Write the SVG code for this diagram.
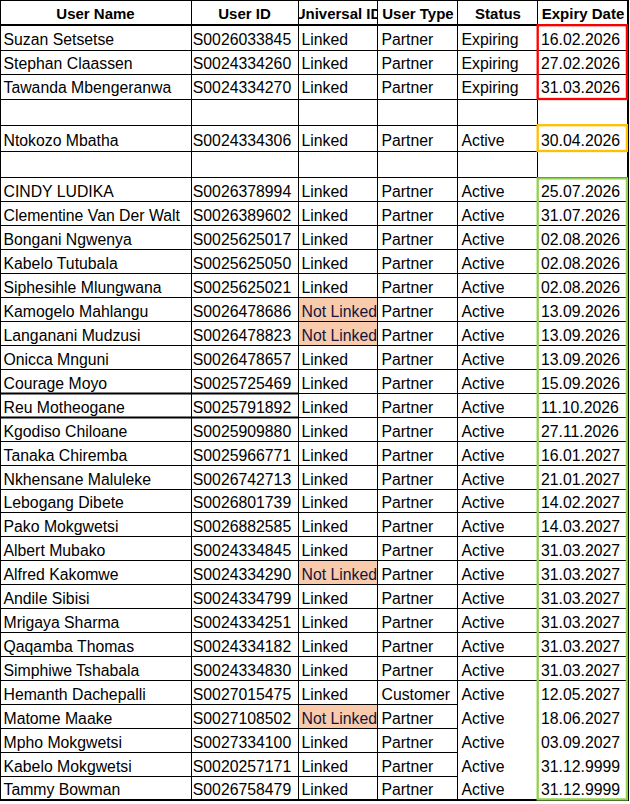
<svg xmlns="http://www.w3.org/2000/svg" width="630" height="804" viewBox="0 0 630 804">
<style>
text{font-family:"Liberation Sans",Arial,sans-serif;fill:#000}
.c{font-size:15.8px}
.h{font-size:15px;font-weight:bold;text-anchor:middle}
.g{stroke:#000;stroke-width:1;fill:none}
.k{stroke:#000;stroke-width:2;fill:none}
.nl{fill:#F8CBAD}
.nt{fill:#14143a}
</style>
<defs>
<clipPath id="uidclip"><rect x="299" y="0" width="78" height="25"/></clipPath>
</defs>
<rect x="0" y="0" width="630" height="804" fill="#fff"/>
<g id="fills">
<rect class="nl" x="299" y="298" width="78" height="23.5"/>
<rect class="nl" x="299" y="322" width="78" height="23.5"/>
<rect class="nl" x="299" y="561" width="78" height="23.5"/>
<rect class="nl" x="299" y="705" width="78" height="23.5"/>
</g>
<g id="grid">
<line class="g" x1="0" y1="0.5" x2="629" y2="0.5"/>
<line class="k" x1="0" y1="25" x2="629" y2="25"/>
<line class="g" x1="0" y1="50.5" x2="628" y2="50.5"/>
<line class="g" x1="0" y1="74.5" x2="628" y2="74.5"/>
<line class="g" x1="0" y1="99.5" x2="628" y2="99.5"/>
<line class="g" x1="0" y1="125.5" x2="628" y2="125.5"/>
<line class="g" x1="0" y1="151.5" x2="628" y2="151.5"/>
<line class="g" x1="0" y1="177.5" x2="628" y2="177.5"/>
<line class="g" x1="0" y1="201.5" x2="628" y2="201.5"/>
<line class="g" x1="0" y1="225.5" x2="628" y2="225.5"/>
<line class="g" x1="0" y1="249.5" x2="628" y2="249.5"/>
<line class="g" x1="0" y1="273.5" x2="628" y2="273.5"/>
<line class="g" x1="0" y1="297.5" x2="628" y2="297.5"/>
<line class="g" x1="0" y1="321.5" x2="628" y2="321.5"/>
<line class="g" x1="0" y1="345.5" x2="628" y2="345.5"/>
<line class="g" x1="0" y1="369.5" x2="628" y2="369.5"/>
<line class="k" x1="0" y1="393.5" x2="298.5" y2="393.5"/>
<line class="g" x1="298.5" y1="393.5" x2="628" y2="393.5"/>
<line class="k" x1="0" y1="417.5" x2="298.5" y2="417.5"/>
<line class="g" x1="298.5" y1="417.5" x2="628" y2="417.5"/>
<line class="g" x1="0" y1="441.5" x2="628" y2="441.5"/>
<line class="g" x1="0" y1="465.5" x2="628" y2="465.5"/>
<line class="g" x1="0" y1="489.5" x2="628" y2="489.5"/>
<line class="g" x1="0" y1="512.5" x2="628" y2="512.5"/>
<line class="g" x1="0" y1="536.5" x2="628" y2="536.5"/>
<line class="g" x1="0" y1="560.5" x2="628" y2="560.5"/>
<line class="g" x1="0" y1="584.5" x2="628" y2="584.5"/>
<line class="g" x1="0" y1="608.5" x2="628" y2="608.5"/>
<line class="g" x1="0" y1="632.5" x2="628" y2="632.5"/>
<line class="g" x1="0" y1="656.5" x2="628" y2="656.5"/>
<line class="g" x1="0" y1="680.5" x2="628" y2="680.5"/>
<line class="g" x1="0" y1="704.5" x2="458" y2="704.5"/>
<line class="g" x1="0" y1="728.5" x2="458" y2="728.5"/>
<line class="g" x1="0" y1="752.5" x2="458" y2="752.5"/>
<line class="g" x1="0" y1="776.5" x2="458" y2="776.5"/>
<line class="k" x1="0" y1="800" x2="629" y2="800"/>
<line class="g" x1="0.5" y1="0" x2="0.5" y2="801"/>
<line class="g" x1="191.5" y1="0" x2="191.5" y2="801"/>
<line class="g" x1="298.5" y1="0" x2="298.5" y2="801"/>
<line class="g" x1="377.5" y1="0" x2="377.5" y2="801"/>
<line class="g" x1="457.5" y1="0" x2="457.5" y2="801"/>
<line class="g" x1="537.5" y1="0" x2="537.5" y2="801"/>
<line class="k" x1="628" y1="0" x2="628" y2="801"/>
</g>
<g id="highlights" fill="none" stroke-width="2.3">
<rect x="537.7" y="25.2" width="89.2" height="73.8" stroke="#FF0000"/>
<rect x="537.7" y="125.2" width="89.2" height="25.8" stroke="#FFC000"/>
<rect x="537.7" y="178.4" width="89.2" height="621" stroke="#92D050"/>
</g>
<g id="header">
<text class="h" x="95.5" y="19">User Name</text>
<text class="h" x="244.5" y="19">User ID</text>
<text class="h" x="338" y="19" clip-path="url(#uidclip)">Universal ID</text>
<text class="h" x="418" y="19">User Type</text>
<text class="h" x="498" y="19">Status</text>
<text class="h" x="583" y="19">Expiry Date</text>
</g>
<g id="rows" class="c">
<g id="r01"><text x="3.5" y="44.5">Suzan Setsetse</text><text x="192.8" y="44.5">S0026033845</text><text x="301.5" y="44.5">Linked</text><text x="381.5" y="44.5">Partner</text><text x="461.5" y="44.5">Expiring</text><text x="541" y="44.5">16.02.2026</text></g>
<g id="r02"><text x="3.5" y="68.5">Stephan Claassen</text><text x="192.8" y="68.5">S0024334260</text><text x="301.5" y="68.5">Linked</text><text x="381.5" y="68.5">Partner</text><text x="461.5" y="68.5">Expiring</text><text x="541" y="68.5">27.02.2026</text></g>
<g id="r03"><text x="3.5" y="93">Tawanda Mbengeranwa</text><text x="192.8" y="93">S0024334270</text><text x="301.5" y="93">Linked</text><text x="381.5" y="93">Partner</text><text x="461.5" y="93">Expiring</text><text x="541" y="93">31.03.2026</text></g>
<g id="r04"><text x="3.5" y="145.5">Ntokozo Mbatha</text><text x="192.8" y="145.5">S0024334306</text><text x="301.5" y="145.5">Linked</text><text x="381.5" y="145.5">Partner</text><text x="461.5" y="145.5">Active</text><text x="541" y="145.5">30.04.2026</text></g>
<g id="r05"><text x="3.5" y="196.5">CINDY LUDIKA</text><text x="192.8" y="196.5">S0026378994</text><text x="301.5" y="196.5">Linked</text><text x="381.5" y="196.5">Partner</text><text x="461.5" y="196.5">Active</text><text x="541" y="196.5">25.07.2026</text></g>
<g id="r06"><text x="3.5" y="220.5">Clementine Van Der Walt</text><text x="192.8" y="220.5">S0026389602</text><text x="301.5" y="220.5">Linked</text><text x="381.5" y="220.5">Partner</text><text x="461.5" y="220.5">Active</text><text x="541" y="220.5">31.07.2026</text></g>
<g id="r07"><text x="3.5" y="244.5">Bongani Ngwenya</text><text x="192.8" y="244.5">S0025625017</text><text x="301.5" y="244.5">Linked</text><text x="381.5" y="244.5">Partner</text><text x="461.5" y="244.5">Active</text><text x="541" y="244.5">02.08.2026</text></g>
<g id="r08"><text x="3.5" y="268.5">Kabelo Tutubala</text><text x="192.8" y="268.5">S0025625050</text><text x="301.5" y="268.5">Linked</text><text x="381.5" y="268.5">Partner</text><text x="461.5" y="268.5">Active</text><text x="541" y="268.5">02.08.2026</text></g>
<g id="r09"><text x="3.5" y="292.5">Siphesihle Mlungwana</text><text x="192.8" y="292.5">S0025625021</text><text x="301.5" y="292.5">Linked</text><text x="381.5" y="292.5">Partner</text><text x="461.5" y="292.5">Active</text><text x="541" y="292.5">02.08.2026</text></g>
<g id="r10"><text x="3.5" y="316.5">Kamogelo Mahlangu</text><text x="192.8" y="316.5">S0026478686</text><text class="nt" x="301.5" y="316.5">Not Linked</text><text x="381.5" y="316.5">Partner</text><text x="461.5" y="316.5">Active</text><text x="541" y="316.5">13.09.2026</text></g>
<g id="r11"><text x="3.5" y="340.5">Langanani Mudzusi</text><text x="192.8" y="340.5">S0026478823</text><text class="nt" x="301.5" y="340.5">Not Linked</text><text x="381.5" y="340.5">Partner</text><text x="461.5" y="340.5">Active</text><text x="541" y="340.5">13.09.2026</text></g>
<g id="r12"><text x="3.5" y="364.5">Onicca Mnguni</text><text x="192.8" y="364.5">S0026478657</text><text x="301.5" y="364.5">Linked</text><text x="381.5" y="364.5">Partner</text><text x="461.5" y="364.5">Active</text><text x="541" y="364.5">13.09.2026</text></g>
<g id="r13"><text x="3.5" y="388.5">Courage Moyo</text><text x="192.8" y="388.5">S0025725469</text><text x="301.5" y="388.5">Linked</text><text x="381.5" y="388.5">Partner</text><text x="461.5" y="388.5">Active</text><text x="541" y="388.5">15.09.2026</text></g>
<g id="r14"><text x="3.5" y="412.5">Reu Motheogane</text><text x="192.8" y="412.5">S0025791892</text><text x="301.5" y="412.5">Linked</text><text x="381.5" y="412.5">Partner</text><text x="461.5" y="412.5">Active</text><text x="541" y="412.5">11.10.2026</text></g>
<g id="r15"><text x="3.5" y="436.5">Kgodiso Chiloane</text><text x="192.8" y="436.5">S0025909880</text><text x="301.5" y="436.5">Linked</text><text x="381.5" y="436.5">Partner</text><text x="461.5" y="436.5">Active</text><text x="541" y="436.5">27.11.2026</text></g>
<g id="r16"><text x="3.5" y="460.5">Tanaka Chiremba</text><text x="192.8" y="460.5">S0025966771</text><text x="301.5" y="460.5">Linked</text><text x="381.5" y="460.5">Partner</text><text x="461.5" y="460.5">Active</text><text x="541" y="460.5">16.01.2027</text></g>
<g id="r17"><text x="3.5" y="484.5">Nkhensane Maluleke</text><text x="192.8" y="484.5">S0026742713</text><text x="301.5" y="484.5">Linked</text><text x="381.5" y="484.5">Partner</text><text x="461.5" y="484.5">Active</text><text x="541" y="484.5">21.01.2027</text></g>
<g id="r18"><text x="3.5" y="507.5">Lebogang Dibete</text><text x="192.8" y="507.5">S0026801739</text><text x="301.5" y="507.5">Linked</text><text x="381.5" y="507.5">Partner</text><text x="461.5" y="507.5">Active</text><text x="541" y="507.5">14.02.2027</text></g>
<g id="r19"><text x="3.5" y="531.5">Pako Mokgwetsi</text><text x="192.8" y="531.5">S0026882585</text><text x="301.5" y="531.5">Linked</text><text x="381.5" y="531.5">Partner</text><text x="461.5" y="531.5">Active</text><text x="541" y="531.5">14.03.2027</text></g>
<g id="r20"><text x="3.5" y="555.5">Albert Mubako</text><text x="192.8" y="555.5">S0024334845</text><text x="301.5" y="555.5">Linked</text><text x="381.5" y="555.5">Partner</text><text x="461.5" y="555.5">Active</text><text x="541" y="555.5">31.03.2027</text></g>
<g id="r21"><text x="3.5" y="579.5">Alfred Kakomwe</text><text x="192.8" y="579.5">S0024334290</text><text class="nt" x="301.5" y="579.5">Not Linked</text><text x="381.5" y="579.5">Partner</text><text x="461.5" y="579.5">Active</text><text x="541" y="579.5">31.03.2027</text></g>
<g id="r22"><text x="3.5" y="603.5">Andile Sibisi</text><text x="192.8" y="603.5">S0024334799</text><text x="301.5" y="603.5">Linked</text><text x="381.5" y="603.5">Partner</text><text x="461.5" y="603.5">Active</text><text x="541" y="603.5">31.03.2027</text></g>
<g id="r23"><text x="3.5" y="627.5">Mrigaya Sharma</text><text x="192.8" y="627.5">S0024334251</text><text x="301.5" y="627.5">Linked</text><text x="381.5" y="627.5">Partner</text><text x="461.5" y="627.5">Active</text><text x="541" y="627.5">31.03.2027</text></g>
<g id="r24"><text x="3.5" y="651.5">Qaqamba Thomas</text><text x="192.8" y="651.5">S0024334182</text><text x="301.5" y="651.5">Linked</text><text x="381.5" y="651.5">Partner</text><text x="461.5" y="651.5">Active</text><text x="541" y="651.5">31.03.2027</text></g>
<g id="r25"><text x="3.5" y="675.5">Simphiwe Tshabala</text><text x="192.8" y="675.5">S0024334830</text><text x="301.5" y="675.5">Linked</text><text x="381.5" y="675.5">Partner</text><text x="461.5" y="675.5">Active</text><text x="541" y="675.5">31.03.2027</text></g>
<g id="r26"><text x="3.5" y="699.5">Hemanth Dachepalli</text><text x="192.8" y="699.5">S0027015475</text><text x="301.5" y="699.5">Linked</text><text x="381.5" y="699.5">Customer</text><text x="461.5" y="699.5">Active</text><text x="541" y="699.5">12.05.2027</text></g>
<g id="r27"><text x="3.5" y="723.5">Matome Maake</text><text x="192.8" y="723.5">S0027108502</text><text class="nt" x="301.5" y="723.5">Not Linked</text><text x="381.5" y="723.5">Partner</text><text x="461.5" y="723.5">Active</text><text x="541" y="723.5">18.06.2027</text></g>
<g id="r28"><text x="3.5" y="747.5">Mpho Mokgwetsi</text><text x="192.8" y="747.5">S0027334100</text><text x="301.5" y="747.5">Linked</text><text x="381.5" y="747.5">Partner</text><text x="461.5" y="747.5">Active</text><text x="541" y="747.5">03.09.2027</text></g>
<g id="r29"><text x="3.5" y="771.5">Kabelo Mokgwetsi</text><text x="192.8" y="771.5">S0020257171</text><text x="301.5" y="771.5">Linked</text><text x="381.5" y="771.5">Partner</text><text x="461.5" y="771.5">Active</text><text x="541" y="771.5">31.12.9999</text></g>
<g id="r30"><text x="3.5" y="795">Tammy Bowman</text><text x="192.8" y="795">S0026758479</text><text x="301.5" y="795">Linked</text><text x="381.5" y="795">Partner</text><text x="461.5" y="795">Active</text><text x="541" y="795">31.12.9999</text></g>
</g>
</svg>
